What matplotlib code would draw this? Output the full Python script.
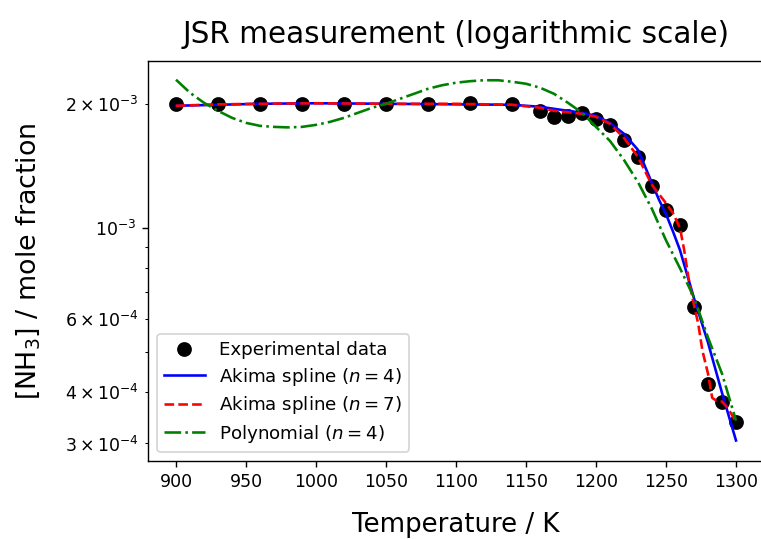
import matplotlib
matplotlib.use("Agg")
import matplotlib.pyplot as plt

# experimental points
temp_exp = [900, 930, 960, 990, 1020, 1050, 1080, 1110, 1140, 1160, 1170, 1180,
            1190, 1200, 1210, 1220, 1230, 1240, 1250, 1260, 1270, 1280, 1290, 1300]
nh3_exp = [2.0e-3, 2.0e-3, 2.0e-3, 2.0e-3, 2.0e-3, 2.0e-3, 2.0e-3, 2.011e-3, 2.0e-3,
           1.92e-3, 1.86e-3, 1.87e-3, 1.90e-3, 1.84e-3, 1.78e-3, 1.635e-3, 1.487e-3,
           1.264e-3, 1.105e-3, 1.015e-3, 6.42e-4, 4.19e-4, 3.79e-4, 3.39e-4]

# Akima spline, n = 4
temp_ak4 = [900, 930, 960, 1000, 1050, 1100, 1140, 1160, 1180, 1190, 1200, 1210,
            1220, 1230, 1240, 1245, 1250, 1255, 1260, 1270, 1280, 1290, 1300]
nh3_ak4 = [1.978e-3, 1.989e-3, 2.0e-3, 2.006e-3, 2.0e-3, 1.994e-3, 1.989e-3, 1.967e-3,
           1.923e-3, 1.902e-3, 1.870e-3, 1.798e-3, 1.691e-3, 1.546e-3, 1.284e-3,
           1.17e-3, 1.080e-3, 9.8e-4, 8.83e-4, 6.75e-4, 5.27e-4, 3.98e-4, 3.05e-4]

# Akima spline, n = 7
temp_ak7 = [900, 930, 960, 1000, 1050, 1100, 1140, 1160, 1170, 1180, 1190, 1200,
            1210, 1220, 1230, 1240, 1250, 1255, 1260, 1263, 1266, 1270, 1273, 1276,
            1280, 1283, 1286, 1290, 1294, 1300]
nh3_ak7 = [1.978e-3, 1.994e-3, 2.0e-3, 2.006e-3, 2.0e-3, 2.0e-3, 1.989e-3, 1.956e-3,
           1.923e-3, 1.907e-3, 1.891e-3, 1.860e-3, 1.788e-3, 1.653e-3, 1.486e-3,
           1.270e-3, 1.148e-3, 1.086e-3, 9.99e-4, 8.83e-4, 7.59e-4, 6.49e-4, 5.86e-4,
           5.04e-4, 4.43e-4, 3.87e-4, 3.81e-4, 3.79e-4, 3.66e-4, 3.39e-4]

# polynomial, n = 4
temp_poly = [900, 910, 920, 930, 940, 950, 960, 970, 980, 990, 1000, 1010, 1020,
             1030, 1040, 1050, 1060, 1070, 1080, 1090, 1100, 1110, 1120, 1130, 1140,
             1150, 1160, 1170, 1180, 1190, 1200, 1210, 1220, 1230, 1240, 1250, 1260,
             1270, 1280, 1290, 1300]
nh3_poly = [2.288e-3, 2.127e-3, 2.011e-3, 1.923e-3, 1.849e-3, 1.798e-3, 1.768e-3,
            1.758e-3, 1.753e-3, 1.758e-3, 1.778e-3, 1.808e-3, 1.849e-3, 1.902e-3,
            1.956e-3, 2.0e-3, 2.057e-3, 2.115e-3, 2.175e-3, 2.218e-3, 2.250e-3,
            2.269e-3, 2.281e-3, 2.281e-3, 2.262e-3, 2.237e-3, 2.188e-3, 2.115e-3,
            2.011e-3, 1.902e-3, 1.758e-3, 1.625e-3, 1.461e-3, 1.291e-3, 1.111e-3,
            9.33e-4, 7.98e-4, 6.78e-4, 5.42e-4, 4.43e-4, 3.41e-4]

fig = plt.figure(figsize=(761 / 125, 539 / 125), dpi=125)
# right spine sits just past the image edge, like the cropped original
ax = fig.add_axes([148 / 761, 1 - 461 / 539, 616 / 761, 400 / 539])

ax.plot(temp_exp, nh3_exp, 'o', color='black', markersize=7.5, label='Experimental data')
ax.plot(temp_ak4, nh3_ak4, '-', color='blue', label='Akima spline ($n = 4$)')
ax.plot(temp_ak7, nh3_ak7, '--', color='red', label='Akima spline ($n = 7$)')
ax.plot(temp_poly, nh3_poly, '-.', color='green', label='Polynomial ($n = 4$)')

ax.set_yscale('log')
ax.set_xlim(880, 1320)
ax.set_ylim(2.72e-4, 2.54e-3)
ax.set_title('JSR measurement (logarithmic scale)', fontsize=17, pad=10.5)
ax.set_xlabel('Temperature / K', fontsize=15, labelpad=12)
ax.set_ylabel('[NH$_3$] / mole fraction', fontsize=15.5, labelpad=13)
ax.legend(loc='lower left', fontsize=10.5, handlelength=2.2, labelspacing=0.35)

fig.savefig('out.png', dpi=125)
